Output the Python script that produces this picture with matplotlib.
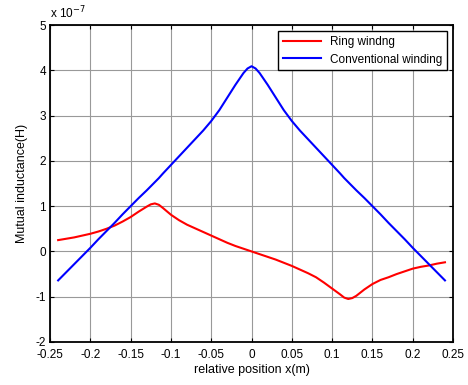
import numpy as np
import matplotlib
matplotlib.use('Agg')
import matplotlib.pyplot as plt

plt.rcParams['font.family'] = ['Liberation Sans', 'DejaVu Sans']

# relative position (m)
x_pos = [-0.24, -0.23, -0.22, -0.21, -0.20, -0.19, -0.18, -0.17, -0.16, -0.15,
         -0.14, -0.13, -0.125, -0.12, -0.115, -0.11, -0.10, -0.09, -0.08, -0.07,
         -0.06, -0.05, -0.04, -0.03, -0.02, -0.01, -0.005, 0.00, 0.005, 0.01,
         0.02, 0.03, 0.04, 0.05, 0.06, 0.07, 0.08, 0.09, 0.10, 0.11,
         0.115, 0.12, 0.125, 0.13, 0.14, 0.15, 0.16, 0.17, 0.18, 0.19,
         0.20, 0.21, 0.22, 0.23, 0.24]

# mutual inductance, units of 1e-7 H
ring = [0.25, 0.28, 0.31, 0.35, 0.39, 0.44, 0.50, 0.57, 0.66, 0.76,
        0.88, 0.99, 1.04, 1.06, 1.03, 0.96, 0.81, 0.69, 0.59, 0.51,
        0.43, 0.35, 0.27, 0.19, 0.12, 0.06, 0.03, 0.00, -0.03, -0.06,
        -0.12, -0.18, -0.25, -0.32, -0.40, -0.48, -0.57, -0.69, -0.82, -0.95,
        -1.02, -1.05, -1.03, -0.98, -0.84, -0.72, -0.63, -0.57, -0.50, -0.44,
        -0.38, -0.34, -0.31, -0.27, -0.24]

conventional = [-0.64, -0.46, -0.28, -0.10, 0.08, 0.27, 0.45, 0.63, 0.82, 1.00,
                1.18, 1.35, 1.44, 1.53, 1.62, 1.72, 1.91, 2.10, 2.29, 2.48,
                2.67, 2.88, 3.12, 3.40, 3.68, 3.94, 4.04, 4.09, 4.04, 3.94,
                3.68, 3.40, 3.12, 2.88, 2.67, 2.48, 2.29, 2.10, 1.91, 1.72,
                1.62, 1.53, 1.44, 1.35, 1.18, 1.00, 0.82, 0.63, 0.45, 0.27,
                0.08, -0.10, -0.28, -0.46, -0.64]

fig = plt.figure(figsize=(4.68, 3.85), dpi=100)
ax = fig.add_axes([0.107, 0.1117, 0.861, 0.8233])

ax.plot(x_pos, ring, color='red', linewidth=1.5, label='Ring windng')
ax.plot(x_pos, conventional, color='blue', linewidth=1.5, label='Conventional winding')

ax.set_xlim(-0.25, 0.25)
ax.set_ylim(-2, 5)
ax.set_xticks(np.arange(-0.25, 0.2501, 0.05))
ax.set_xticklabels(['-0.25', '-0.2', '-0.15', '-0.1', '-0.05', '0', '0.05',
                    '0.1', '0.15', '0.2', '0.25'])
ax.set_yticks(range(-2, 6))
ax.set_yticklabels([str(v) for v in range(-2, 6)])

ax.grid(True, color='0.6', linewidth=0.8)
ax.tick_params(direction='in', top=True, right=True, length=3, labelsize=8.5)
ax.tick_params(axis='x', pad=5)
ax.tick_params(axis='y', pad=3)
for s in ax.spines.values():
    s.set_linewidth(1.3)

ax.set_xlabel('relative position x(m)', fontsize=9, labelpad=2)
ax.set_ylabel('Mutual inductance(H)', fontsize=9, labelpad=5)
ax.text(0.0, 1.012, r'x 10$^{-7}$', transform=ax.transAxes, fontsize=8.5,
        ha='left', va='bottom')

leg = ax.legend(loc='upper right', fontsize=8.5, fancybox=False, framealpha=1,
                edgecolor='black', borderaxespad=0.5, handlelength=3.2)
leg.get_frame().set_linewidth(1.0)

fig.savefig('out.png', dpi=100)
